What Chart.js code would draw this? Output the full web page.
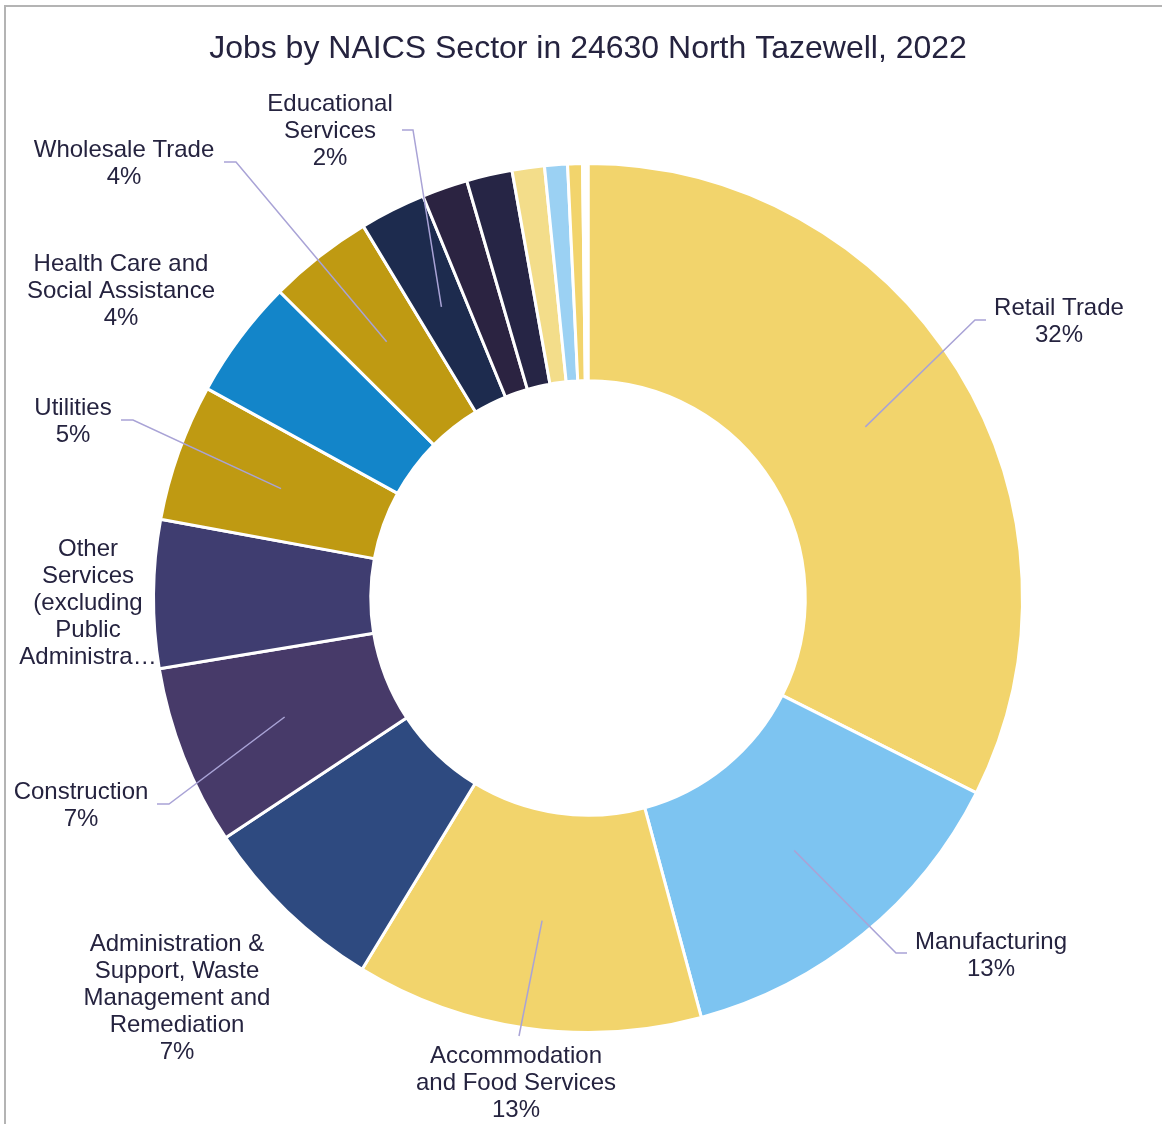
<!DOCTYPE html>
<html>
<head>
<meta charset="utf-8">
<script src="https://cdn.jsdelivr.net/npm/chart.js@4.4.0/dist/chart.umd.min.js"></script>
<style>
    html, body { margin: 0; padding: 0; background: #fff; }
    #wrap { position: relative; width: 1162px; height: 1124px; }
    #frame {
        position: absolute; left: 4px; top: 5px; right: -10px; bottom: -10px;
        border-left: 2px solid #b4b4b4; border-top: 2px solid #b4b4b4;
    }
    canvas { position: absolute; left: 0; top: 0; }
</style>
</head>
<body>
<div id="wrap">
    <div id="frame"></div>
    <canvas id="chart" width="1162" height="1124"></canvas>
</div>
<script>
// ── data ─────────────────────────────────────────────────────────
const sectors = [
    'Retail Trade',
    'Manufacturing',
    'Accommodation and Food Services',
    'Administration & Support, Waste Management and Remediation',
    'Construction',
    'Other Services (excluding Public Administration)',
    'Utilities',
    'Health Care and Social Assistance',
    'Wholesale Trade',
    'Educational Services',
    'Finance and Insurance',
    'Professional, Scientific, and Technical Services',
    'Transportation and Warehousing',
    'Real Estate and Rental and Leasing',
    'Information',
    'Arts, Entertainment, and Recreation',
];
const shares = [32.4, 13.4, 12.9, 7.0, 6.7, 5.5, 5.1, 4.45, 3.9, 2.45, 1.7, 1.7, 1.2, 0.85, 0.55, 0.2];
const sliceColors = [
    '#F2D46C', '#7DC4F1', '#F2D46C', '#2E4A80', '#473A69', '#3F3D70', '#BF9A12', '#1385C9',
    '#BF9A12', '#1D2B4E', '#2B2341', '#262545', '#F3DD8A', '#9BD1F3', '#F2D46C', '#FFFFFF',
];

// label placement (text centre of first line, leader elbow + tail), by slice index
const labelLayout = {
    0: { lines: ['Retail Trade'], x: 1059, y: 308, elbow: [975, 320], tail: [986, 320] },
    1: { lines: ['Manufacturing'], x: 991, y: 942, elbow: [896, 953], tail: [907, 953] },
    2: { lines: ['Accommodation', 'and Food Services'], x: 516, y: 1056, elbow: [519, 1036], tail: null },
    3: { lines: ['Administration &', 'Support, Waste', 'Management and', 'Remediation'], x: 177, y: 944, elbow: null, tail: null },
    4: { lines: ['Construction'], x: 81, y: 792, elbow: [169, 804], tail: [157, 804] },
    5: { lines: ['Other', 'Services', '(excluding', 'Public', 'Administra\u2026'], x: 88, y: 549, elbow: null, tail: null, noPct: true },
    6: { lines: ['Utilities'], x: 73, y: 408, elbow: [133, 420], tail: [121, 420] },
    7: { lines: ['Health Care and', 'Social Assistance'], x: 121, y: 264, elbow: null, tail: null },
    8: { lines: ['Wholesale Trade'], x: 124, y: 150, elbow: [236, 162], tail: [224, 162] },
    9: { lines: ['Educational', 'Services'], x: 330, y: 104, elbow: [413, 130], tail: [402, 130] },
};

const LABEL_FONT = "24px 'Liberation Sans', Arial, sans-serif";
const LABEL_COLOR = '#25233F';
const LEADER_COLOR = '#A9A3D6';
const LINE_H = 27;

// draws the data labels with their leader lines
const sliceLabels = {
    id: 'sliceLabels',
    afterDatasetsDraw(chart) {
        const ctx = chart.ctx;
        const meta = chart.getDatasetMeta(0);
        const total = shares.reduce((a, b) => a + b, 0);
        ctx.save();
        Object.keys(labelLayout).forEach(k => {
            const i = +k;
            const spot = labelLayout[i];
            const arc = meta.data[i];
            if (spot.elbow) {
                const p = arc.tooltipPosition();
                ctx.beginPath();
                ctx.moveTo(p.x, p.y);
                ctx.lineTo(spot.elbow[0], spot.elbow[1]);
                if (spot.tail) ctx.lineTo(spot.tail[0], spot.tail[1]);
                ctx.strokeStyle = LEADER_COLOR;
                ctx.lineWidth = 1.5;
                ctx.stroke();
            }
            const lines = spot.lines.slice();
            if (!spot.noPct) lines.push(Math.round(shares[i] / total * 100) + '%');
            ctx.font = LABEL_FONT;
            ctx.fillStyle = LABEL_COLOR;
            ctx.textAlign = 'center';
            ctx.textBaseline = 'middle';
            lines.forEach((t, j) => ctx.fillText(t, spot.x, spot.y + j * LINE_H));
        });
        ctx.restore();
    },
};

new Chart(document.getElementById('chart'), {
    type: 'doughnut',
    data: {
        labels: sectors,
        datasets: [{
            data: shares,
            backgroundColor: sliceColors,
            borderColor: '#FFFFFF',
            borderWidth: 3,
            hoverOffset: 0,
        }],
    },
    options: {
        responsive: false,
        animation: false,
        cutout: '50%',
        layout: { padding: { top: 0, left: 152, right: 138, bottom: 90 } },
        plugins: {
            legend: { display: false },
            tooltip: { enabled: false },
            title: {
                display: true,
                text: 'Jobs by NAICS Sector in 24630 North Tazewell, 2022',
                color: '#25233F',
                font: { family: "'Liberation Sans', Arial, sans-serif", size: 32, weight: 'normal', lineHeight: 1.2 },
                padding: { top: 30, bottom: 93.6 },
            },
        },
    },
    plugins: [sliceLabels],
});
</script>
</body>
</html>
